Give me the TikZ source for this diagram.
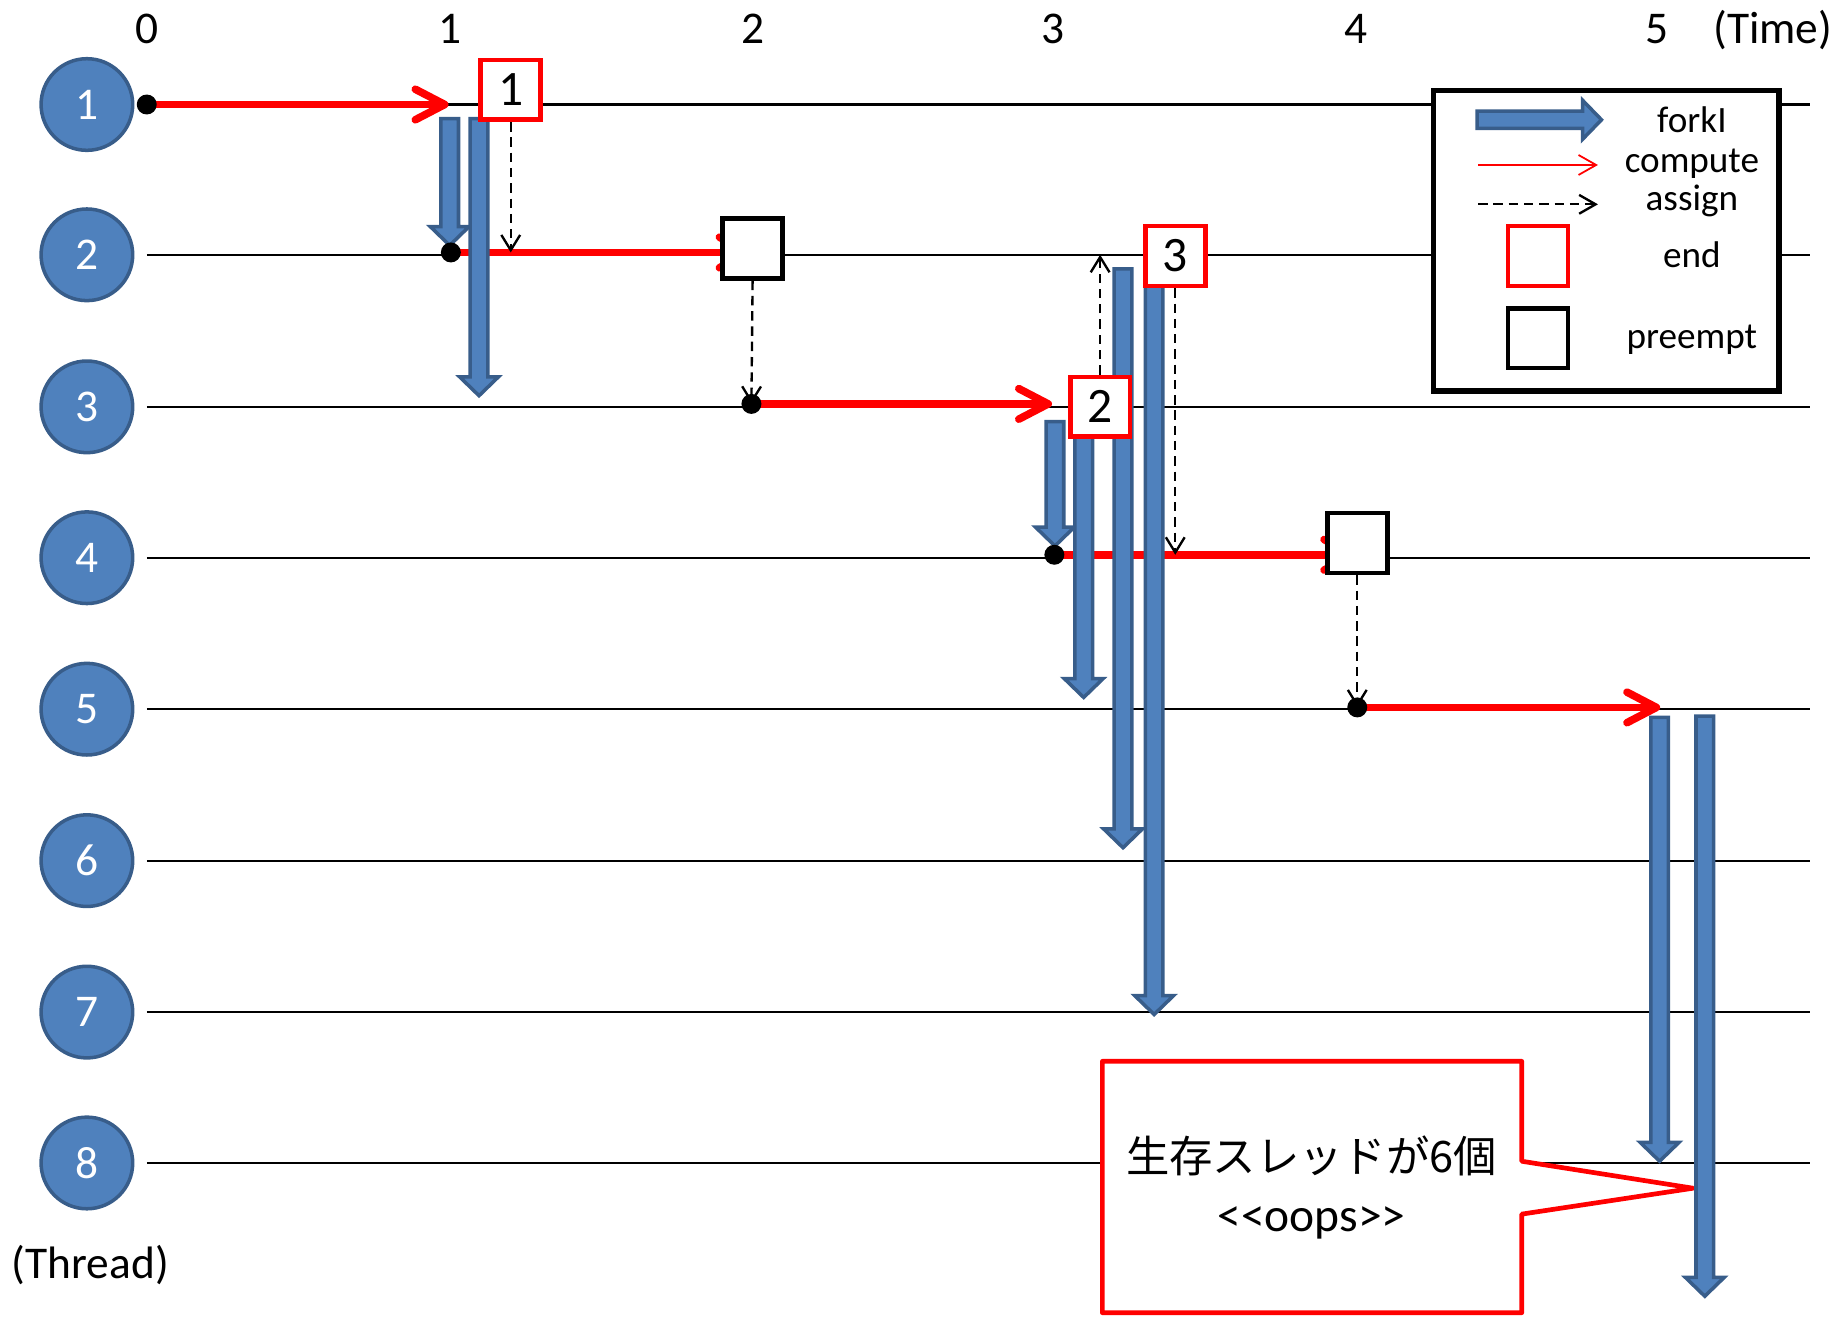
\documentclass[tikz,border=0pt]{standalone}
\usepackage{fontspec}
\setmainfont{Carlito}
\newfontfamily\cjk{Noto Sans CJK JP}
\usetikzlibrary{arrows.meta,calc,shapes.callouts}
\definecolor{forkfill}{HTML}{4F81BD}
\definecolor{forkedge}{HTML}{385D8A}
\definecolor{cred}{HTML}{FF0000}

\newcommand{\forkdown}[2]{%
  \draw[forkarrow] let \p1=(#1), \p2=(#2) in
    (\x1-0.75mm,\y1) -- (\x1+0.75mm,\y1) -- (\x1+0.75mm,\y2+1.6mm) --
    (\x1+1.65mm,\y2+1.6mm) -- (\x1,\y2) -- (\x1-1.65mm,\y2+1.6mm) --
    (\x1-0.75mm,\y2+1.6mm) -- cycle;}
\newcommand{\forkright}[2]{%
  \draw[forkarrow] let \p1=(#1), \p2=(#2) in
    (\x1,\y1-0.73mm) -- (\x2-1.6mm,\y1-0.73mm) -- (\x2-1.6mm,\y1-1.65mm) --
    (\x2,\y1) -- (\x2-1.6mm,\y1+1.65mm) -- (\x2-1.6mm,\y1+0.73mm) --
    (\x1,\y1+0.73mm) -- cycle;}

\begin{document}
\begin{tikzpicture}[x=0.01cm,y=-0.01cm,
  thread/.style={line width=0.18mm, black},
  tcirc/.style={circle, fill=forkfill, draw=forkedge, line width=0.3mm, minimum size=7.8mm, inner sep=0pt, text=white, font=\fontsize{11}{13}\selectfont},
  lbl/.style={anchor=base, inner sep=0pt, font=\fontsize{11}{13}\selectfont},
  leglbl/.style={anchor=base, inner sep=0pt, font=\fontsize{9}{11}\selectfont},
  compute/.style={cred, line width=0.65mm, -{Straight Barb[length=2.5mm,width=2.6mm,round]}},
  blackdot/.style={circle, fill=black, minimum size=1.7mm, inner sep=0pt},
  endbox/.style={draw=cred, fill=white, line width=0.4mm, minimum width=5.1mm, minimum height=5.1mm, inner sep=0pt, font=\fontsize{12}{14}\selectfont},
  prebox/.style={draw=black, fill=white, line width=0.4mm, minimum width=5.1mm, minimum height=5.1mm, inner sep=0pt},
  assign/.style={black, line width=0.2mm, dash pattern=on 0.8mm off 0.5mm, -{Straight Barb[length=1.3mm,width=1.6mm]}},
  forkarrow/.style={fill=forkfill, draw=forkedge, line width=0.3mm, line join=miter},
]
\useasboundingbox (0,0) rectangle (1568,1123);

% time labels
\node[lbl] (tl0) at (125,37) {0};
\node[lbl] (tl1) at (383,37) {1};
\node[lbl] (tl2) at (641,37) {2};
\node[lbl] (tl3) at (897,37) {3};
\node[lbl] (tl4) at (1155,37) {4};
\node[lbl] (tl5) at (1411,37) {5};
\node[lbl] (tlt) at (1510,37) {(Time)};
\node[lbl] (thl) at (77,1089) {(Thread)};

% thread circles and lines
\foreach \k/\y in {1/89,2/217,3/346.5,4/475,5/604,6/733,7/862,8/990.5}{
  \node[tcirc] (th\k) at (74,\y) {\k};
  \coordinate (L\k) at (125,\y);
  \coordinate (R\k) at (1542,\y);
  \draw[thread] (L\k) -- (R\k);
}

% dots (start of compute)
\coordinate (d1c) at (125,89);
\coordinate (d2c) at (384,215);
\coordinate (d3c) at (640,344);
\coordinate (d4c) at (898,472.5);
\coordinate (d5c) at (1156,602.5);

% boxes positions
\coordinate (end1c) at (435,76.5);
\coordinate (end2c) at (937,346.5);
\coordinate (end3c) at (1001,218);
\coordinate (pre2c) at (641,211.5);
\coordinate (pre4c) at (1156,462.5);

% compute arrows
\coordinate (e1) at (382,89);
\coordinate (e3) at (896,344);
\coordinate (e5) at (1414,602.5);
\draw[compute] (d1c) -- (e1);
\draw[compute] (d2c) -- (d2c -| pre2c);
\draw[compute] (d3c) -- (e3);
\draw[compute] (d4c) -- (d4c -| pre4c);
\draw[compute] (d5c) -- (e5);

% callout
\coordinate (ptip) at (1442,1012);
\node[draw=cred, fill=white, line width=0.4mm, line join=round, rectangle callout,
  callout absolute pointer={(ptip)}, callout pointer width=4.5mm,
  minimum width=35.7mm, minimum height=21.4mm, inner sep=0pt] (callout) at (1117.5,1011) {};
\node[anchor=base, inner sep=0pt, font=\cjk\fontsize{10.5}{12}\selectfont] (jp) at (1117,999) {生存スレッドが6個};
\node[lbl, font=\fontsize{11.5}{13}\selectfont] (oops) at (1117,1049) {<\kern0pt<oops>\kern0pt>};

% fork arrows
\coordinate (fa1) at (383,101);  \coordinate (fa2) at (383,209);
\coordinate (fb1) at (408,101);  \coordinate (fb2) at (408,337);
\coordinate (fc1) at (898.5,359); \coordinate (fc2) at (898.5,465);
\coordinate (fd1) at (923,360);  \coordinate (fd2) at (923,594);
\coordinate (fe1) at (956.5,229); \coordinate (fe2) at (956.5,722);
\coordinate (ff1) at (983,240);  \coordinate (ff2) at (983,864);
\coordinate (fg1) at (1413.5,611); \coordinate (fg2) at (1413.5,989);
\coordinate (fh1) at (1452,610); \coordinate (fh2) at (1452,1104);
\forkdown{fa1}{fa2}
\forkdown{fb1}{fb2}
\forkdown{fc1}{fc2}
\forkdown{fd1}{fd2}
\forkdown{fe1}{fe2}
\forkdown{ff1}{ff2}
\forkdown{fg1}{fg2}
\forkdown{fh1}{fh2}

% boxes
\node[endbox] (end1) at (end1c) {1};
\node[endbox] (end2) at (end2c) {2};
\node[endbox] (end3) at (end3c) {3};
\node[prebox] (pre2) at (pre2c) {};
\node[prebox] (pre4) at (pre4c) {};

% assign arrows
\coordinate (a1e) at (435,215);
\coordinate (a3e) at (937,217);
\coordinate (a4e) at (1001,472.5);
\draw[assign] (end1.south) -- (a1e);
\draw[assign] (pre2.south) -- (d3c);
\draw[assign] (end2.north) -- (a3e);
\draw[assign] (end3.south) -- (a4e);
\draw[assign] (pre4.south) -- (d5c);

% dots
\node[blackdot] (d1) at (d1c) {};
\node[blackdot] (d2) at (d2c) {};
\node[blackdot] (d3) at (d3c) {};
\node[blackdot] (d4) at (d4c) {};
\node[blackdot] (d5) at (d5c) {};

% legend
\node[draw=black, fill=white, line width=0.45mm, minimum width=29.4mm, minimum height=25.6mm, inner sep=0pt] (legend) at (1368,205) {};
\coordinate (lf1) at (1258,102); \coordinate (lf2) at (1364,102);
\forkright{lf1}{lf2}
\coordinate (lc1) at (1259,140.5); \coordinate (lc2) at (1361,140.5);
\draw[cred, line width=0.15mm, -{Straight Barb[length=1.5mm,width=1.7mm]}] (lc1) -- (lc2);
\coordinate (la1) at (1259,174); \coordinate (la2) at (1361,174);
\draw[assign, -{Straight Barb[length=1.4mm,width=1.6mm]}] (la1) -- (la2);
\node[endbox] (lend) at (1310,218) {};
\node[prebox] (lpre) at (1310,288) {};
\node[leglbl] (lt1) at (1441,113) {forkI};
\node[leglbl] (lt2) at (1441,146.5) {compute};
\node[leglbl] (lt3) at (1441,179) {assign};
\node[leglbl] (lt4) at (1441,228) {end};
\node[leglbl] (lt5) at (1441,296.5) {preempt};
\end{tikzpicture}
\end{document}
